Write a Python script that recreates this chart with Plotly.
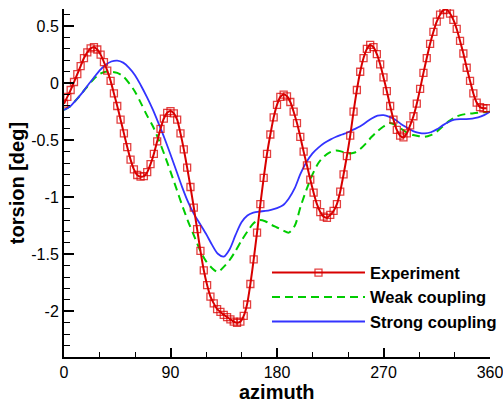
import plotly.graph_objects as go

# ---- Experiment (open squares, 128 samples per revolution) ----
exp_azimuth = [0, 2.81, 5.63, 8.44, 11.25, 14.06, 16.88, 19.69, 22.5, 25.31, 28.13, 30.94,
               33.75, 36.56, 39.38, 42.19, 45, 47.81, 50.63, 53.44, 56.25, 59.06, 61.88, 64.69,
               67.5, 70.31, 73.13, 75.94, 78.75, 81.56, 84.38, 87.19, 90, 92.81, 95.63, 98.44,
               101.25, 104.06, 106.88, 109.69, 112.5, 115.31, 118.13, 120.94, 123.75, 126.56,
               129.38, 132.19, 135, 137.81, 140.63, 143.44, 146.25, 149.06, 151.88, 154.69,
               157.5, 160.31, 163.13, 165.94, 168.75, 171.56, 174.38, 177.19, 180, 182.81,
               185.63, 188.44, 191.25, 194.06, 196.88, 199.69, 202.5, 205.31, 208.13, 210.94,
               213.75, 216.56, 219.38, 222.19, 225, 227.81, 230.63, 233.44, 236.25, 239.06,
               241.88, 244.69, 247.5, 250.31, 253.13, 255.94, 258.75, 261.56, 264.38, 267.19,
               270, 272.81, 275.63, 278.44, 281.25, 284.06, 286.88, 289.69, 292.5, 295.31,
               298.13, 300.94, 303.75, 306.56, 309.38, 312.19, 315, 317.81, 320.63, 323.44,
               326.25, 329.06, 331.88, 334.69, 337.5, 340.31, 343.13, 345.94, 348.75, 351.56,
               354.38, 357.19]
exp_torsion = [-0.18, -0.12, -0.06, 0.01, 0.08, 0.15, 0.22, 0.27, 0.305, 0.315, 0.295, 0.25,
               0.185, 0.11, 0.02, -0.09, -0.20, -0.32, -0.44, -0.56, -0.67, -0.755, -0.805, -0.82,
               -0.815, -0.78, -0.71, -0.62, -0.51, -0.40, -0.31, -0.26, -0.245, -0.265, -0.32, -0.44,
               -0.58, -0.74, -0.91, -1.09, -1.28, -1.47, -1.64, -1.77, -1.87, -1.93,
               -1.98, -2.005, -2.03, -2.05, -2.07, -2.09, -2.10, -2.09, -2.04, -1.94,
               -1.76, -1.545, -1.31, -1.06, -0.83, -0.62, -0.45, -0.30, -0.19, -0.12,
               -0.10, -0.115, -0.165, -0.25, -0.35, -0.47, -0.60, -0.72, -0.845, -0.96,
               -1.06, -1.13, -1.17, -1.18, -1.155, -1.12, -1.06, -0.95, -0.80, -0.64,
               -0.46, -0.25, -0.06, 0.10, 0.22, 0.30, 0.335, 0.315, 0.255, 0.165,
               0.05, -0.07, -0.20, -0.32, -0.41, -0.46, -0.475, -0.44, -0.37, -0.29,
               -0.18, -0.05, 0.09, 0.22, 0.345, 0.45, 0.54, 0.60, 0.64, 0.645,
               0.61, 0.555, 0.475, 0.37, 0.26, 0.135, 0.02, -0.09, -0.17, -0.21,
               -0.22, -0.22]

# ---- Simulations (sampled every 5 deg) ----
sim_azimuth = [0, 5, 10, 15, 20, 25, 30, 35, 40, 45, 50, 55, 60, 65, 70, 75, 80, 85, 90, 95,
               100, 105, 110, 115, 120, 125, 130, 135, 140, 145, 150, 155, 160, 165, 170, 175,
               180, 185, 190, 195, 200, 205, 210, 215, 220, 225, 230, 235, 240, 245, 250, 255,
               260, 265, 270, 275, 280, 285, 290, 295, 300, 305, 310, 315, 320, 325, 330, 335,
               340, 345, 350, 355, 360]
weak_torsion = [-0.235, -0.205, -0.15, -0.09, -0.025, 0.035, 0.08, 0.10, 0.10, 0.09, 0.06, 0.0,
                -0.075, -0.175, -0.28, -0.375, -0.495, -0.63, -0.775, -0.925, -1.075, -1.215,
                -1.34, -1.465, -1.56, -1.62, -1.655, -1.61, -1.55, -1.47, -1.38, -1.30, -1.23,
                -1.20, -1.21, -1.24, -1.265, -1.29, -1.31, -1.25, -1.08, -0.93, -0.80, -0.70,
                -0.64, -0.605, -0.59, -0.60, -0.615, -0.61, -0.58, -0.53, -0.47, -0.42, -0.38,
                -0.35, -0.365, -0.40, -0.435, -0.455, -0.465, -0.47, -0.455, -0.425, -0.38,
                -0.335, -0.30, -0.28, -0.27, -0.265, -0.26, -0.255, -0.25]
strong_torsion = [-0.235, -0.205, -0.15, -0.09, -0.02, 0.045, 0.11, 0.16, 0.19, 0.198, 0.18, 0.135,
                  0.07, -0.02, -0.12, -0.23, -0.355, -0.485, -0.625, -0.77, -0.915, -1.045,
                  -1.15, -1.235, -1.32, -1.415, -1.495, -1.52, -1.455, -1.33, -1.22, -1.16, -1.135,
                  -1.125, -1.12, -1.11, -1.095, -1.07, -1.01, -0.92, -0.79, -0.69, -0.615, -0.565,
                  -0.525, -0.495, -0.47, -0.45, -0.43, -0.405, -0.38, -0.345, -0.31, -0.285, -0.28,
                  -0.295, -0.32, -0.36, -0.39, -0.42, -0.435, -0.44, -0.43, -0.405, -0.37,
                  -0.34, -0.32, -0.315, -0.315, -0.31, -0.30, -0.28, -0.25]

x_tickvals = [0, 90, 180, 270, 360]
x_ticktext = ["0", "90", "180", "270", "360"]
y_tickvals = [0.5, 0, -0.5, -1, -1.5, -2]
y_ticktext = ["0.5", "0", "-0.5", "-1", "-1.5", "-2"]

FONT = "Liberation Sans, Arial, Helvetica, sans-serif"

fig = go.Figure()
fig.add_trace(go.Scatter(
    x=sim_azimuth, y=weak_torsion, name="Weak coupling", mode="lines",
    line=dict(color="#00cc00", width=2, dash="8px,5px", shape="spline", smoothing=0.8),
    legendrank=2))
fig.add_trace(go.Scatter(
    x=sim_azimuth, y=strong_torsion, name="Strong coupling", mode="lines",
    line=dict(color="#3333ff", width=1.8, shape="spline", smoothing=0.8),
    legendrank=3))
fig.add_trace(go.Scatter(
    x=exp_azimuth, y=exp_torsion, name="Experiment", mode="lines+markers",
    line=dict(color="#d80000", width=2, shape="spline", smoothing=0.6),
    marker=dict(symbol="square-open", size=7, color="rgba(218,0,0,0.75)",
                line=dict(width=1.3)),
    legendrank=1))

fig.update_layout(
    width=503, height=402,
    margin=dict(l=64, r=13, t=9, b=45, autoexpand=False),
    paper_bgcolor="white", plot_bgcolor="white",
    font=dict(family=FONT, size=16, color="black"),
    showlegend=True,
    legend=dict(x=0.4765, y=0.292, xanchor="left", yanchor="top",
                bgcolor="rgba(0,0,0,0)", borderwidth=0, itemwidth=93,
                font=dict(family=FONT, size=16.5, color="black", weight="bold"),
                tracegroupgap=0),
    xaxis=dict(range=[0, 360], showgrid=False, zeroline=False, showline=True,
               linecolor="black", linewidth=2, ticks="inside", ticklen=9, tickwidth=1.5,
               tickcolor="black", tickmode="array", tickvals=x_tickvals, ticktext=x_ticktext,
               tickfont=dict(size=16), ticklabeloverflow="allow",
               minor=dict(tickmode="linear", tick0=0, dtick=30, ticks="inside", ticklen=5,
                          tickwidth=1.2, tickcolor="black", showgrid=False)),
    yaxis=dict(range=[-2.4, 0.65], showgrid=False, zeroline=False, showline=True,
               linecolor="black", linewidth=2, ticks="inside", ticklen=10, tickwidth=1.5,
               tickcolor="black", tickmode="array", tickvals=y_tickvals, ticktext=y_ticktext,
               tickfont=dict(size=16), ticklabeloverflow="allow",
               minor=dict(tickmode="linear", tick0=0, dtick=0.1, ticks="inside", ticklen=6,
                          tickwidth=1.2, tickcolor="black", showgrid=False)),
    annotations=[
        dict(text="<b>azimuth</b>", xref="paper", yref="paper", x=0.5, y=-0.1,
             xanchor="center", yanchor="middle", showarrow=False,
             font=dict(family=FONT, size=20, color="black")),
        dict(text="<b>torsion [deg]</b>", xref="paper", yref="paper", x=-0.11, y=0.5,
             xanchor="center", yanchor="middle", textangle=-90, showarrow=False,
             font=dict(family=FONT, size=20, color="black")),
    ],
)

fig.write_html("out.html")
